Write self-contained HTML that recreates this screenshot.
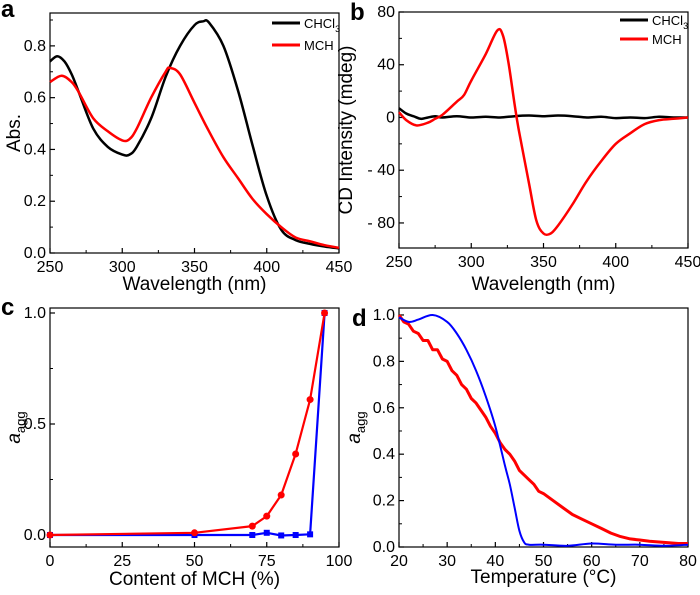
<!DOCTYPE html>
<html><head><meta charset="utf-8">
<style>
body{margin:0;background:#fff;}
svg{display:block;font-family:"Liberation Sans",Arial,sans-serif;}
</style></head>
<body>
<svg id="fig" width="700" height="595" viewBox="0 0 700 595"></svg>
<script>
// Panel a data
const aWl = [250,255,260,265,270,280,290,300,305,310,320,330,340,350,356,360,370,380,390,400,410,420,430,440,450];
const aChcl3 = [0.74,0.76,0.74,0.69,0.62,0.48,0.41,0.38,0.38,0.41,0.52,0.68,0.80,0.88,0.895,0.89,0.80,0.63,0.42,0.22,0.09,0.05,0.035,0.025,0.018];
const aWlM = [250,258,265,270,280,290,300,305,310,320,330,333,340,350,360,370,380,390,400,410,420,430,440,450];
const aMch = [0.66,0.685,0.66,0.62,0.52,0.47,0.435,0.44,0.48,0.60,0.70,0.715,0.69,0.58,0.47,0.37,0.29,0.21,0.15,0.10,0.06,0.045,0.03,0.02];
// Panel b data
const bWlM = [250,255,262,270,275,280,290,295,300,310,318,322,326,330,333,340,345,350,355,360,370,380,390,400,410,420,430,440,450];
const bMch = [4,-2,-6,-4,-1,2,12,17,28,48,66,62,40,10,-10,-50,-78,-88,-88,-82,-66,-48,-33,-20,-12,-5,-2,-1,0];
const bWlC = [250,255,260,265,270,275,280,290,300,310,320,330,340,350,360,370,380,390,400,410,420,430,440,450];
const bChcl3 = [7,3,1,-1,0,1,0,1,0,0.5,0,1,1.5,1,1.5,1,0,0.5,-0.5,0,-0.5,0.5,0,0];
// Panel c data
const cX = [0,50,70,75,80,85,90,95];
const cRed = [0,0.01,0.04,0.085,0.18,0.365,0.61,1.0];
const cBlue = [0,0,0,0.01,-0.002,0,0.003,1.0];
// Panel d data
const dTb = [20,22,24,27,30,32,34,36,38,40,42,43,44,45,46,47,50,55,60,65,70,75,80];
const dBlue = [0.99,0.97,0.98,1.0,0.97,0.92,0.85,0.76,0.65,0.52,0.35,0.27,0.17,0.07,0.02,0.01,0.01,0.005,0.015,0.01,0.01,0.005,0.01];
const dTr = [20,21,22,23,24,25,26,27,28,29,30,31,32,33,34,35,36,37,38,39,40,41,42,43,44,45,46,47,48,49,50,52,54,56,58,60,62,64,66,68,70,72,75,78,80];
const dRed = [1.0,0.97,0.96,0.93,0.92,0.89,0.89,0.85,0.85,0.81,0.80,0.76,0.74,0.70,0.68,0.64,0.62,0.59,0.56,0.52,0.49,0.45,0.42,0.40,0.37,0.33,0.31,0.29,0.27,0.24,0.23,0.20,0.17,0.14,0.12,0.10,0.08,0.06,0.045,0.035,0.03,0.025,0.02,0.015,0.015];

const NS="http://www.w3.org/2000/svg";
const svg=document.getElementById('fig');
function mk(tag,attrs,parent){const e=document.createElementNS(NS,tag);for(const k in attrs)e.setAttribute(k,attrs[k]);(parent||svg).appendChild(e);return e;}

function panel(cfg){
  const g=mk('g',{});
  
  
  const sx=v=>cfg.x0+(v-cfg.xmin)/(cfg.xmax-cfg.xmin)*(cfg.x1-cfg.x0);
  const sy=v=>cfg.yb-(v-cfg.ymin)/(cfg.ymax-cfg.ymin)*(cfg.yb-cfg.yt);
  const frame=mk('rect',{x:cfg.x0,y:cfg.yt,width:cfg.x1-cfg.x0,height:cfg.yb-cfg.yt,fill:'none',stroke:'#000','stroke-width':1.2},g);
  
  
  cfg.xticks.forEach((t,i)=>{
    const x=sx(t);
    mk('line',{x1:x,x2:x,y1:cfg.yb,y2:cfg.yb-5,stroke:'#000','stroke-width':1.2},g);
    if(i<cfg.xticks.length-1){const xm=sx(t+(cfg.xticks[1]-cfg.xticks[0])/2);mk('line',{x1:xm,x2:xm,y1:cfg.yb,y2:cfg.yb-3,stroke:'#000'},g);}
    const tx=mk('text',{x:x,y:cfg.yb+19,'font-size':16,'text-anchor':'middle'},g);
    tx.textContent=cfg.xlab[i];
    
    
  });
  cfg.yticks.forEach((t,i)=>{
    const y=sy(t);
    mk('line',{x1:cfg.x0,x2:cfg.x0+5,y1:y,y2:y,stroke:'#000','stroke-width':1.2},g);
    const ym=sy(t+(cfg.yticks[1]-cfg.yticks[0])/2);
    if(ym>cfg.yt)mk('line',{x1:cfg.x0,x2:cfg.x0+3,y1:ym,y2:ym,stroke:'#000'},g);
    const ty=mk('text',{x:cfg.x0-4,y:y+5,'font-size':16,'text-anchor':'end'},g);
    ty.textContent=cfg.ylab[i];
    
    
  });
  const xt=mk('text',{x:(cfg.x0+cfg.x1)/2,y:cfg.xtY,'font-size':19,'text-anchor':'middle'},g);
  xt.textContent=cfg.xtitle;
  
  
  const yt=mk('text',{x:0,y:0,'font-size':19,'text-anchor':'middle',transform:`translate(${cfg.ytX},${(cfg.yt+cfg.yb)/2}) rotate(-90)`},g);
  yt.innerHTML=cfg.ytitle;
  
  
  const lt=mk('text',{x:cfg.letterX,y:cfg.letterY,'font-size':24,'font-weight':'bold'},g);
  lt.textContent=cfg.letter;
  
  
  return {g,sx,sy};
}
function smoothPath(pts){
  let d='M'+pts[0][0].toFixed(1)+','+pts[0][1].toFixed(1);
  for(let i=0;i<pts.length-1;i++){
    const p0=pts[Math.max(0,i-1)],p1=pts[i],p2=pts[i+1],p3=pts[Math.min(pts.length-1,i+2)];
    const c1x=p1[0]+(p2[0]-p0[0])/6,c1y=p1[1]+(p2[1]-p0[1])/6;
    const c2x=p2[0]-(p3[0]-p1[0])/6,c2y=p2[1]-(p3[1]-p1[1])/6;
    d+=`C${c1x.toFixed(1)},${c1y.toFixed(1)} ${c2x.toFixed(1)},${c2y.toFixed(1)} ${p2[0].toFixed(1)},${p2[1].toFixed(1)}`;
  }
  return d;
}
function series(p,xs,ys,color,w,name,marker,smooth){
  const pts=xs.map((x,i)=>[p.sx(x),p.sy(ys[i])]);
  const d=smooth?smoothPath(pts):pts.map((q,i)=>(i?'L':'M')+q[0].toFixed(1)+','+q[1].toFixed(1)).join('');
  const path=mk('path',{d:d,fill:'none',stroke:color,'stroke-width':w,'stroke-linejoin':'round'},p.g);
  
  
  if(marker){
    xs.forEach((x,i)=>{
      let m;
      if(marker==='circle') m=mk('circle',{cx:p.sx(x),cy:p.sy(ys[i]),r:3.5,fill:color},p.g);
      else m=mk('rect',{x:p.sx(x)-3,y:p.sy(ys[i])-3,width:6,height:6,fill:color},p.g);
      
      
    });
  }
}
function legend(p,x,y,color,html){
  const l=mk('line',{x1:x,x2:x+28,y1:y,y2:y,stroke:color,'stroke-width':3},p.g);
  
  
  const t=mk('text',{x:x+32,y:y+5,'font-size':13},p.g);
  t.innerHTML=html;
  
  
}

// a
const pa=panel({name:'panel-a-absorbance',x0:50,x1:339,yt:13,yb:253,xmin:250,xmax:450,ymin:0,ymax:0.927,
  xticks:[250,300,350,400,450],xlab:['250','300','350','400','450'],
  yticks:[0,0.2,0.4,0.6,0.8],ylab:['0.0','0.2','0.4','0.6','0.8'],
  xtitle:'Wavelength (nm)',xtY:290,ytitle:'Abs.',ytX:20,letter:'a',letterX:1,letterY:17});
series(pa,aWl,aChcl3,'#000',2.5,'chcl3-absorbance-line',null,true);
series(pa,aWlM,aMch,'#f00',2.5,'mch-absorbance-line',null,true);
legend(pa,272,23,'#000','CHCl<tspan font-size="9" dy="4">3</tspan>');
legend(pa,272,45,'#f00','MCH');

// b
const pb=panel({name:'panel-b-cd',x0:399,x1:688,yt:12,yb:248,xmin:250,xmax:450,ymin:-99,ymax:80,
  xticks:[250,300,350,400,450],xlab:['250','300','350','400','450'],
  yticks:[-80,-40,0,40,80],ylab:['- 80','- 40','0','40','80'],
  xtitle:'Wavelength (nm)',xtY:290,ytitle:'CD Intensity (mdeg)',ytX:352,letter:'b',letterX:350,letterY:20});
series(pb,bWlC,bChcl3,'#000',2.5,'chcl3-cd-line',null,true);
series(pb,bWlM,bMch,'#f00',2.5,'mch-cd-line',null,true);
legend(pb,620,20,'#000','CHCl<tspan font-size="9" dy="4">3</tspan>');
legend(pb,620,39,'#f00','MCH');

// c
const pc=panel({name:'panel-c-content',x0:50,x1:339,yt:308,yb:547,xmin:0,xmax:100,ymin:-0.054,ymax:1.0225,
  xticks:[0,25,50,75,100],xlab:['0','25','50','75','100'],
  yticks:[0,0.5,1.0],ylab:['0.0','0.5','1.0'],
  xtitle:'Content of MCH (%)',xtY:585,ytitle:'<tspan font-style="italic">a</tspan><tspan font-size="13" dy="5">agg</tspan>',ytX:20,letter:'c',letterX:1,letterY:315});
series(pc,cX,cBlue,'#00f',2.2,'blue-series','square');
series(pc,cX,cRed,'#f00',2.2,'red-series','circle');

// d
const pd=panel({name:'panel-d-temperature',x0:399,x1:688,yt:308,yb:547,xmin:20,xmax:80,ymin:0,ymax:1.03,
  xticks:[20,30,40,50,60,70,80],xlab:['20','30','40','50','60','70','80'],
  yticks:[0,0.2,0.4,0.6,0.8,1.0],ylab:['0.0','0.2','0.4','0.6','0.8','1.0'],
  xtitle:'Temperature (°C)',xtY:583,ytitle:'<tspan font-style="italic">a</tspan><tspan font-size="13" dy="5">agg</tspan>',ytX:360,letter:'d',letterX:352,letterY:326});
series(pd,dTr,dRed,'#f00',3,'red-heating-line');
series(pd,dTb,dBlue,'#00f',2,'blue-heating-line',null,true);
</script>
</body></html>
